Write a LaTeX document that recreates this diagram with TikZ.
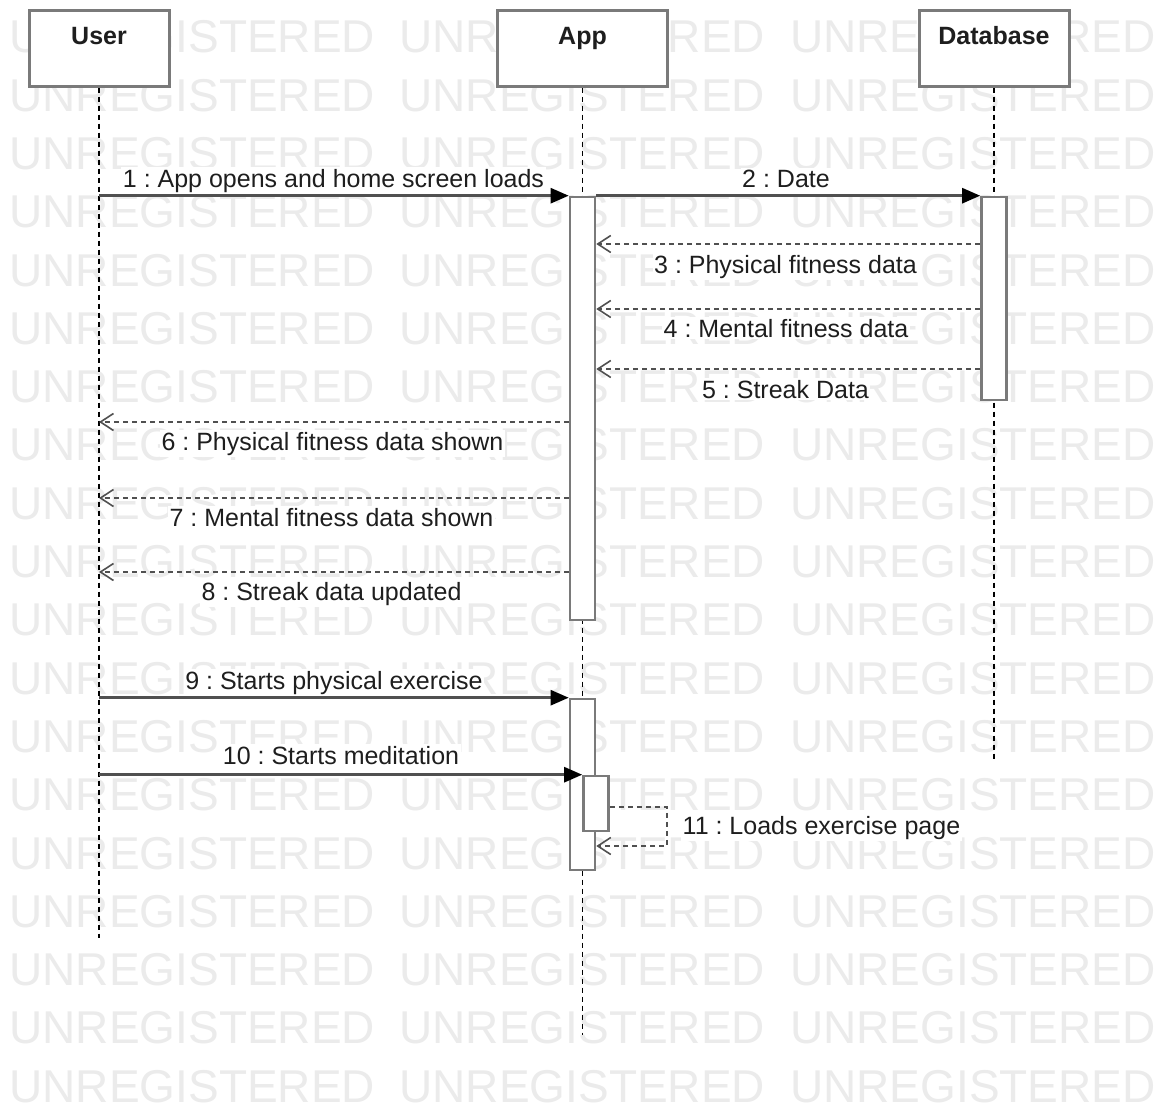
\documentclass[tikz,border=0pt]{standalone}
\usepackage{fontspec}
\setmainfont{Liberation Sans}
\usetikzlibrary{arrows.meta}
\definecolor{boxgray}{HTML}{7A7A7A}
\definecolor{linegray}{HTML}{505050}
\definecolor{txt}{HTML}{1E1E1E}
\definecolor{wmgray}{HTML}{EBEBEB}
\frenchspacing
\begin{document}
\begin{tikzpicture}[x=1pt,y=-1pt,
  wm/.style={anchor=west,inner sep=0pt,text=wmgray,font=\fontsize{46}{50}\selectfont},
  hdr/.style={draw=boxgray,line width=3pt,fill=white,minimum height=76pt},
  hdrtxt/.style={anchor=base,inner sep=0pt,text=txt,font=\fontsize{25}{30}\selectfont\bfseries},
  act/.style={draw=boxgray,line width=2.6pt,fill=white,minimum width=25pt,inner sep=0pt},
  life/.style={draw=black,line width=1.3pt,dash pattern=on 5pt off 4pt},
  msg/.style={draw=linegray,line width=2.6pt,-{Triangle[length=18pt,width=15pt,color=black]}},
  ret/.style={draw=linegray,line width=2pt,dash pattern=on 5pt off 4pt,
    -{Straight Barb[length=13pt,width=17pt,line width=1.6pt]}},
  lbl/.style={anchor=base,fill=white,inner sep=1.5pt,text=txt,font=\fontsize{25}{30}\selectfont}]
\useasboundingbox (0,0) rectangle (1157,1106);
\fill[white] (0,0) rectangle (1157,1106);

% watermark
\foreach \k in {0,...,18}{
  \foreach \xx/\i in {9.3/a,399.3/b,790/c}{
    \node[wm] (wm\k\i) at (\xx,{37+58.3*\k}) {UNREGISTERED};
  }
}

% header boxes
\node[hdr,minimum width=140pt] (user) at (99,48) {};
\node[hdr,minimum width=170pt] (app) at (582.5,48) {};
\node[hdr,minimum width=150pt] (db) at (994,48) {};

% lifeline ends
\coordinate (userEnd) at (99,938);
\coordinate (appEnd) at (582.5,1035);
\coordinate (dbEnd) at (994,760);

\draw[life] (user.south) -- (userEnd);
\draw[life] (app.south) -- (appEnd);
\draw[life] (db.south) -- (dbEnd);

% redraw header boxes on top of lifeline starts
\node[hdr,minimum width=140pt] at (user) {};
\node[hdr,minimum width=170pt] at (app) {};
\node[hdr,minimum width=150pt] at (db) {};
\node[hdrtxt] (userT) at (99,44) {User};
\node[hdrtxt] (appT) at (582.5,44) {App};
\node[hdrtxt] (dbT) at (994,44) {Database};

% activation bars
\node[act,minimum height=423pt] (act1) at (582.5,408.5) {};
\node[act,minimum height=203pt] (dbact) at (994,298.5) {};
\node[act,minimum height=171pt] (act2) at (582.5,784.5) {};
\node[act,minimum height=55pt] (act3) at (596,803.5) {};

% messages
\draw[msg] (user.south |- act1.north west) -- (act1.north west);
\node[lbl] (l1) at (333.5,187) {1 : App opens and home screen loads};

\draw[msg] (act1.north east) -- (dbact.north west);
\node[lbl] (l2) at (786,187) {2 : Date};

\draw[ret] (dbact.west |- 0,244) -- (act1.east |- 0,244);
\node[lbl] (l3) at (785.5,273) {3 : Physical fitness data};

\draw[ret] (dbact.west |- 0,309) -- (act1.east |- 0,309);
\node[lbl] (l4) at (786,337) {4 : Mental fitness data};

\draw[ret] (dbact.west |- 0,369) -- (act1.east |- 0,369);
\node[lbl] (l5) at (785.5,398) {5 : Streak Data};

\draw[ret] (act1.west |- 0,422) -- (user.south |- 0,422);
\node[lbl] (l6) at (332.5,450) {6 : Physical fitness data shown};

\draw[ret] (act1.west |- 0,498) -- (user.south |- 0,498);
\node[lbl] (l7) at (331.5,526) {7 : Mental fitness data shown};

\draw[ret] (act1.west |- 0,572) -- (user.south |- 0,572);
\node[lbl] (l8) at (331.5,600) {8 : Streak data updated};

\draw[msg] (user.south |- act2.north west) -- (act2.north west);
\node[lbl] (l9) at (334,689) {9 : Starts physical exercise};

\draw[msg] (user.south |- act3.north west) -- (act3.north west);
\node[lbl] (l10) at (341,764) {10 : Starts meditation};

\coordinate (selfA) at (667,807);
\coordinate (selfB) at (667,846);
\draw[ret] (act3.east |- selfA) -- (selfA) -- (selfB) -- (act2.east |- selfB);
\node[lbl,anchor=base west] (l11) at (681,834) {11 : Loads exercise page};
\end{tikzpicture}
\end{document}
